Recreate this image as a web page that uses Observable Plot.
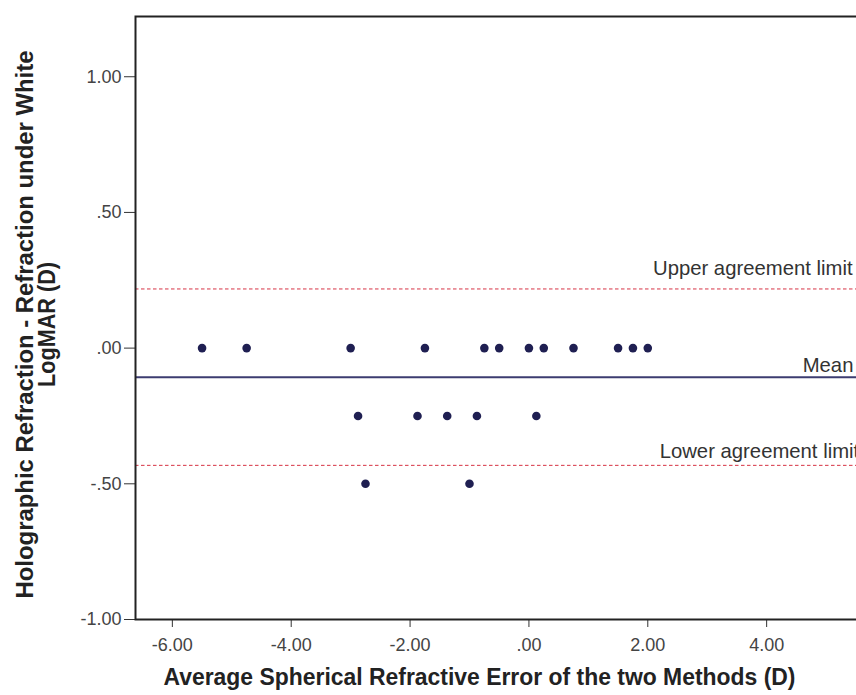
<!DOCTYPE html>
<html>
<head>
<meta charset="utf-8">
<script src="https://cdn.jsdelivr.net/npm/d3@7"></script>
<script src="https://cdn.jsdelivr.net/npm/@observablehq/plot@0.6"></script>
<style>
  html, body { margin: 0; padding: 0; background: #fff; overflow: hidden; }
  #chart { width: 856px; height: 695px; overflow: hidden; }
</style>
</head>
<body>
<div id="chart"></div>
<script>
// Bland–Altman agreement: mean of the two methods vs. their difference
const avgSpherical = [-5.5, -4.75, -3.0, -1.75, -0.75, -0.5, 0, 0.25, 0.75, 1.5, 1.75, 2.0,
                      -2.875, -1.875, -1.375, -0.875, 0.125,
                      -2.75, -1.0];
const difference   = [0, 0, 0, 0, 0, 0, 0, 0, 0, 0, 0, 0,
                      -0.25, -0.25, -0.25, -0.25, -0.25,
                      -0.5, -0.5];

const meanDiff = -0.107;
const upperLimit = 0.218;
const lowerLimit = -0.432;

const xTicks = [-6, -4, -2, 0, 2, 4];
const yTicks = [-1, -0.5, 0, 0.5, 1];

const xTitle = "Average Spherical Refractive Error of the two Methods (D)";
const yTitle1 = "Holographic Refraction - Refraction under White";
const yTitle2 = "LogMAR (D)";

const points = avgSpherical.map((x, i) => ({x, y: difference[i]}));

// SPSS-style numbers: 1.00, .50, .00, -.50
const fmt = d => d.toFixed(2).replace(/^(-?)0\./, "$1.");

const font = "'Liberation Sans', Arial, sans-serif";

const chart = Plot.plot({
  width: 890,
  height: 695,
  marginLeft: 135,
  marginRight: 5,
  marginTop: 16,
  marginBottom: 76,
  style: {fontFamily: font, background: "#fff", color: "#333", maxWidth: "none"},
  x: {domain: [-6.62, 6.0]},
  y: {domain: [-1.0, 1.222]},
  marks: [
    Plot.ruleY([upperLimit, lowerLimit], {stroke: "#d63344", strokeWidth: 1, strokeDasharray: "3.5,2.5"}),
    Plot.ruleY([meanDiff], {stroke: "#3c3c70", strokeWidth: 2}),
    Plot.dot(points, {x: "x", y: "y", r: 4.3, fill: "#1f1f52", stroke: "none"}),
    Plot.text(["Upper agreement limit"], {x: 5.445, y: upperLimit, dy: -20, textAnchor: "end", fontSize: 20.3, fill: "#333"}),
    Plot.text(["Mean"], {x: 5.46, y: meanDiff, dy: -12, textAnchor: "end", fontSize: 20.3, fill: "#333"}),
    Plot.text(["Lower agreement limit"], {x: 2.20, y: lowerLimit, dy: -14, textAnchor: "start", fontSize: 20.3, fill: "#333"}),
    Plot.axisY(yTicks, {tickSize: 11, tickPadding: 3, tickFormat: fmt, fontSize: 18, fill: "#444", stroke: "#333", label: null}),
    Plot.axisX(xTicks, {tickSize: 8, tickPadding: 11, tickFormat: fmt, fontSize: 18, fill: "#444", stroke: "#333", label: null}),
    Plot.frame({stroke: "#222", strokeWidth: 2}),
    Plot.text([xTitle], {className: "x-title", frameAnchor: "bottom", dx: -31, dy: 65, fontSize: 23, fontWeight: "bold", fill: "#222"}),
    Plot.text([yTitle1], {className: "y-title1", frameAnchor: "left", textAnchor: "middle", rotate: -90, dx: -110, dy: 6.5, fontSize: 23, fontWeight: "bold", fill: "#222"}),
    Plot.text([yTitle2], {className: "y-title2", frameAnchor: "left", textAnchor: "middle", rotate: -90, dx: -88, dy: 6.5, fontSize: 23, fontWeight: "bold", fill: "#222"})
  ]
});

// Titles fitted to their set lengths
d3.select(chart).select(".x-title text").attr("textLength", 632).attr("lengthAdjust", "spacingAndGlyphs");
d3.select(chart).select(".y-title1 text").attr("textLength", 548).attr("lengthAdjust", "spacingAndGlyphs");
d3.select(chart).select(".y-title2 text").attr("textLength", 125).attr("lengthAdjust", "spacingAndGlyphs");

document.getElementById("chart").appendChild(chart);
</script>
</body>
</html>
